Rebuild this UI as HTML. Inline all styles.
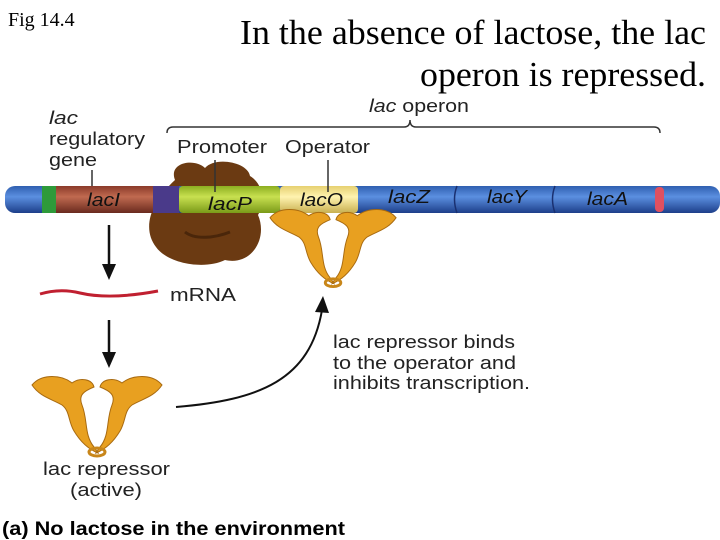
<!DOCTYPE html>
<html><head><style>
body{margin:0;background:#fff;}
svg{display:block;}
.s{font-family:"Liberation Sans",sans-serif;font-size:18px;fill:#222;}
.g{font-family:"Liberation Sans",sans-serif;font-size:18px;font-style:italic;fill:#111;}
</style></head><body>
<svg width="720" height="540" viewBox="0 0 720 540">
<defs>
<linearGradient id="bl" x1="0" y1="0" x2="0" y2="1"><stop offset="0" stop-color="#2f5fb0"/><stop offset="0.4" stop-color="#5b8fe0"/><stop offset="1" stop-color="#1d3f8a"/></linearGradient>
<linearGradient id="rd" x1="0" y1="0" x2="0" y2="1"><stop offset="0" stop-color="#8a3a2a"/><stop offset="0.4" stop-color="#c06a50"/><stop offset="1" stop-color="#6a2a1e"/></linearGradient>
<linearGradient id="lm" x1="0" y1="0" x2="0" y2="1"><stop offset="0" stop-color="#8cae20"/><stop offset="0.4" stop-color="#c8e050"/><stop offset="1" stop-color="#7a9a18"/></linearGradient>
<linearGradient id="yl" x1="0" y1="0" x2="0" y2="1"><stop offset="0" stop-color="#e6d070"/><stop offset="0.4" stop-color="#fff3b0"/><stop offset="1" stop-color="#c8b050"/></linearGradient>
<g id="rep">
<path d="M0,10 C10,-2 30,0 40,8 C48,2 60,4 62,12 C52,16 46,20 50,30 C56,45 52,60 62,72 L66,78 C56,74 48,66 42,56 C36,46 38,36 30,30 C20,24 8,22 0,10Z" fill="#e8a020" stroke="#a86a10" stroke-width="1"/>
<path d="M130,10 C120,-2 100,0 90,8 C82,2 70,4 68,12 C78,16 84,20 80,30 C74,45 78,60 68,72 L64,78 C74,74 82,66 88,56 C94,46 92,36 100,30 C110,24 122,22 130,10Z" fill="#e8a020" stroke="#a86a10" stroke-width="1"/>
<ellipse cx="65" cy="77" rx="8" ry="4" fill="none" stroke="#c8861a" stroke-width="3"/>
</g>
</defs>
<text x="8" y="26" font-family="Liberation Serif,serif" font-size="20">Fig 14.4</text>
<text x="706" y="44" text-anchor="end" font-family="Liberation Serif,serif" font-size="35" textLength="466" lengthAdjust="spacingAndGlyphs">In the absence of lactose, the lac</text>
<text x="706" y="86" text-anchor="end" font-family="Liberation Serif,serif" font-size="35" textLength="286" lengthAdjust="spacingAndGlyphs">operon is repressed.</text>
<text x="369" y="112" class="s" textLength="100" lengthAdjust="spacingAndGlyphs"><tspan font-style="italic">lac</tspan> operon</text>
<path d="M167,133 Q167,127 173,127 L404,127 Q410,127 410,120 Q410,127 416,127 L654,127 Q660,127 660,133" fill="none" stroke="#333" stroke-width="1.5"/>
<text x="49" y="124" class="s" font-style="italic" textLength="29" lengthAdjust="spacingAndGlyphs">lac</text>
<text x="49" y="145" class="s" textLength="96" lengthAdjust="spacingAndGlyphs">regulatory</text>
<text x="49" y="166" class="s" textLength="48" lengthAdjust="spacingAndGlyphs">gene</text>
<line x1="92" y1="170" x2="92" y2="192" stroke="#333" stroke-width="1.5"/>
<text x="177" y="153" class="s" textLength="90" lengthAdjust="spacingAndGlyphs">Promoter</text>
<text x="285" y="153" class="s" textLength="85" lengthAdjust="spacingAndGlyphs">Operator</text>
<!-- polymerase -->
<path d="M175,180 C168,162 195,158 205,168 C215,156 248,162 250,176 C265,185 264,205 258,215 C268,238 252,266 225,260 C205,270 168,264 156,247 C143,230 148,205 175,180Z" fill="#6b3a12"/>
<path d="M185,232 C195,240 215,238 230,232" stroke="#4a260a" stroke-width="3" fill="none"/>
<!-- DNA -->
<rect x="5" y="186" width="715" height="27" rx="10" fill="url(#bl)"/>
<rect x="42" y="186" width="14" height="27" fill="#2e9a3a"/>
<rect x="56" y="186" width="97" height="27" fill="url(#rd)"/>
<rect x="153" y="186" width="26" height="27" fill="#4a3a8a"/>
<rect x="179" y="186" width="101" height="27" fill="url(#lm)" rx="4"/>
<rect x="280" y="186" width="78" height="27" fill="url(#yl)" rx="4"/>
<path d="M457,186 q-5,13 0,27 M555,186 q-5,13 0,27" stroke="#1a3070" stroke-width="1.5" fill="none"/>
<rect x="655" y="187" width="9" height="25" rx="4" fill="#e05060"/>
<line x1="215" y1="160" x2="215" y2="192" stroke="#333" stroke-width="1.5"/>
<line x1="328" y1="160" x2="328" y2="192" stroke="#333" stroke-width="1.5"/>
<text x="87" y="206" class="g" textLength="33" lengthAdjust="spacingAndGlyphs">lacI</text>
<text x="208" y="210" class="g" textLength="44" lengthAdjust="spacingAndGlyphs">lacP</text>
<text x="300" y="206" class="g" textLength="43" lengthAdjust="spacingAndGlyphs">lacO</text>
<text x="388" y="203" class="g" textLength="42" lengthAdjust="spacingAndGlyphs">lacZ</text>
<text x="487" y="203" class="g" textLength="40" lengthAdjust="spacingAndGlyphs">lacY</text>
<text x="587" y="205" class="g" textLength="41" lengthAdjust="spacingAndGlyphs">lacA</text>
<use href="#rep" transform="translate(270,208) scale(0.97)"/>
<!-- arrows -->
<line x1="109" y1="225" x2="109" y2="268" stroke="#111" stroke-width="2.5"/>
<path d="M102,264 L109,280 L116,264Z" fill="#111"/>
<path d="M40,294 Q60,288 80,293 Q110,300 158,291" stroke="#c02030" stroke-width="3" fill="none"/>
<text x="170" y="301" class="s" textLength="66" lengthAdjust="spacingAndGlyphs">mRNA</text>
<line x1="109" y1="320" x2="109" y2="356" stroke="#111" stroke-width="2.5"/>
<path d="M102,352 L109,368 L116,352Z" fill="#111"/>
<use href="#rep" transform="translate(32,375)"/>
<path d="M176,407 C260,400 310,380 322,310" stroke="#111" stroke-width="2" fill="none"/>
<path d="M315,312 L323,296 L329,313Z" fill="#111"/>
<text x="333" y="348" class="s" textLength="182" lengthAdjust="spacingAndGlyphs">lac repressor binds</text>
<text x="333" y="369" class="s" textLength="183" lengthAdjust="spacingAndGlyphs">to the operator and</text>
<text x="333" y="389" class="s" textLength="197" lengthAdjust="spacingAndGlyphs">inhibits transcription.</text>
<text x="43" y="475" class="s" textLength="127" lengthAdjust="spacingAndGlyphs">lac repressor</text>
<text x="70" y="496" class="s" textLength="72" lengthAdjust="spacingAndGlyphs">(active)</text>
<text x="2" y="535" font-family="Liberation Sans,sans-serif" font-size="19" font-weight="bold" textLength="343" lengthAdjust="spacingAndGlyphs">(a) No lactose in the environment</text>
</svg>
</body></html>
